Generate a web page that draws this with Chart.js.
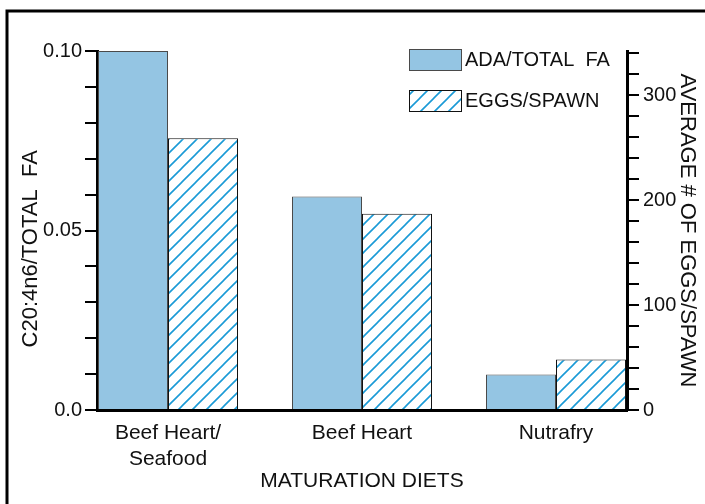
<!DOCTYPE html>
<html>
<head>
<meta charset="utf-8">
<script src="https://cdn.jsdelivr.net/npm/chart.js@4"></script>
<style>
  html, body { margin: 0; padding: 0; background: #fff; }
  canvas { display: block; }
</style>
</head>
<body>
<canvas id="myChart" width="705" height="504"></canvas>
<script>
// data block
const diets = [["Beef Heart/", "Seafood"], ["Beef Heart"], ["Nutrafry"]];
const adaTotalFa = [0.10, 0.0595, 0.0099];
const eggsPerSpawn = [259, 187, 48];
const leftTickLabels = { 0: "0.0", 5: "0.05", 10: "0.10" };   // keyed by hundredths
const rightTickLabels = { 0: "0", 100: "100", 200: "200", 300: "300" };

Chart.defaults.font.family = "'Liberation Sans', Arial, sans-serif";
Chart.defaults.font.size = 20;
Chart.defaults.color = "#111";

// hatch fill for the eggs series
function makeHatch() {
    const c = document.createElement("canvas");
    c.width = 14; c.height = 14;
    const g = c.getContext("2d");
    g.fillStyle = "#fff";
    g.fillRect(0, 0, 14, 14);
    g.strokeStyle = "#1a9ad6";
    g.lineWidth = 1.6;
    g.beginPath();
    g.moveTo(-1, 15); g.lineTo(15, -1);
    g.moveTo(-1, 1); g.lineTo(1, -1);
    g.moveTo(13, 15); g.lineTo(15, 13);
    g.stroke();
    return g.createPattern(c, "repeat");
}
const hatch = makeHatch();

const data = {
    datasets: [{
        label: "ADA/TOTAL  FA",
        data: adaTotalFa.map((v, i) => ({ x: i + 1, y: v })),
        backgroundColor: "#94c5e3",
        borderColor: "#4a4a4a",
        borderWidth: 1,
        yAxisID: "y"
    }, {
        label: "EGGS/SPAWN",
        data: eggsPerSpawn.map((v, i) => ({ x: i + 1, y: v })),
        backgroundColor: hatch,
        borderColor: "#111",
        borderWidth: 1,
        yAxisID: "y1"
    }]
};

// frame + legend drawn by hand
const extras = {
    id: "extras",
    afterDraw(chart) {
        const ctx = chart.ctx;
        ctx.save();
        ctx.strokeStyle = "#000";
        ctx.lineWidth = 3;
        ctx.strokeRect(7, 11, 900, 700);

        const rows = [{ y: 49 }, { y: 90 }];
        chart.data.datasets.forEach((ds, i) => {
            const y = rows[i].y;
            ctx.fillStyle = ds.backgroundColor;
            ctx.fillRect(409, y, 52, 21);
            ctx.strokeStyle = ds.borderColor;
            ctx.lineWidth = 1;
            ctx.strokeRect(409.5, y + 0.5, 52, 21);
            ctx.fillStyle = "#111";
            ctx.font = "20px 'Liberation Sans', Arial, sans-serif";
            ctx.textBaseline = "middle";
            ctx.textAlign = "left";
            ctx.fillText(ds.label, 465, y + 11);
        });
        ctx.restore();
    }
};

const config = {
    type: "bar",
    data: data,
    options: {
        responsive: false,
        animation: false,
        devicePixelRatio: 1,
        layout: { padding: { left: 0, right: 0, top: 51, bottom: 0 } },
        datasets: { bar: { categoryPercentage: 0.7216, barPercentage: 1 } },
        scales: {
            x: {
                type: "linear",
                offset: false,
                min: 0.634,
                max: 3.366,
                afterBuildTicks: (s) => { s.ticks = diets.map((d, i) => ({ value: i + 1 })); },
                afterFit: (s) => { s.height = 94; },
                grid: { display: false, drawTicks: false },
                border: { display: true, color: "#000", width: 3 },
                ticks: {
                    padding: 11,
                    autoSkip: false,
                    maxRotation: 0,
                    font: { size: 21 },
                    callback: (v) => diets[Math.round(v) - 1]
                },
                title: {
                    display: true,
                    text: "MATURATION DIETS",
                    font: { size: 21 },
                    padding: { top: 0, bottom: 10 }
                }
            },
            y: {
                position: "left",
                min: 0,
                max: 0.10,
                afterBuildTicks: (s) => {
                    s.ticks = [];
                    for (let k = 0; k <= 10; k++) s.ticks.push({ value: k / 100 });
                },
                afterFit: (s) => { s.width = 97; },
                grid: { drawOnChartArea: false, drawTicks: true, tickLength: 12, color: "#000", lineWidth: 2 },
                border: { display: true, color: "#000", width: 3 },
                ticks: {
                    padding: 3,
                    autoSkip: false,
                    callback: (v) => {
                        const k = Math.round(v * 100);
                        return leftTickLabels[k] !== undefined ? leftTickLabels[k] : "";
                    }
                },
                title: {
                    display: true,
                    // trailing spaces nudge the rotated title a bit lower, as in the original
                    text: "C20:4n6/TOTAL  FA      ",
                    font: { size: 22 },
                    padding: { top: 18, bottom: 0 }
                }
            },
            y1: {
                position: "right",
                min: 0,
                max: 342,
                afterBuildTicks: (s) => {
                    s.ticks = [];
                    for (let v = 0; v <= 340; v += 20) s.ticks.push({ value: v });
                },
                afterFit: (s) => { s.width = 78; },
                grid: { drawOnChartArea: false, drawTicks: true, tickLength: 12, color: "#000", lineWidth: 2 },
                border: { display: true, color: "#000", width: 3 },
                ticks: {
                    padding: 4,
                    autoSkip: false,
                    callback: (v) => rightTickLabels[Math.round(v)] || ""
                },
                title: {
                    display: true,
                    text: "AVERAGE # OF EGGS/SPAWN",
                    font: { size: 22 },
                    padding: { top: 5, bottom: 0 }
                }
            }
        },
        plugins: {
            legend: { display: false },
            tooltip: { enabled: false }
        }
    },
    plugins: [extras]
};

const myChart = new Chart(document.getElementById("myChart"), config);
</script>
</body>
</html>
